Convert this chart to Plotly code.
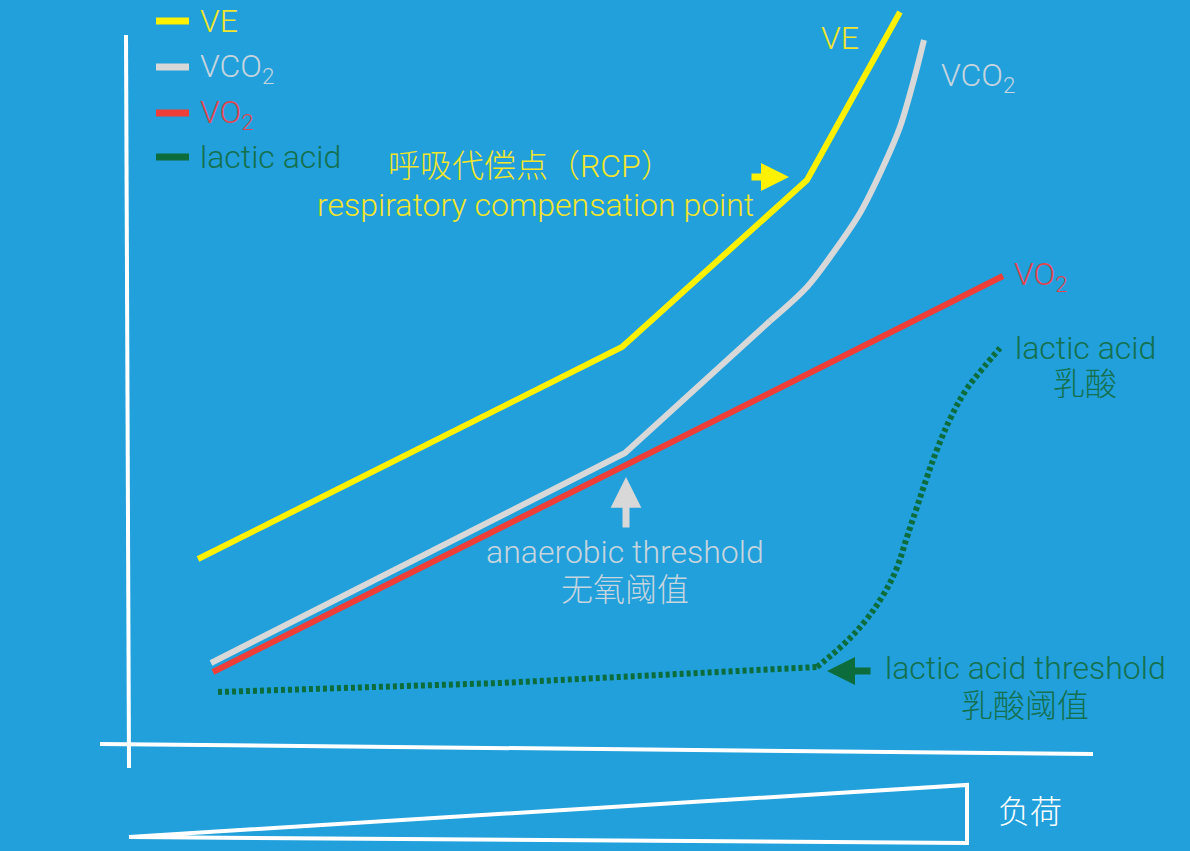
import plotly.graph_objects as go

# ---- data (diagram coordinates; y grows downward) ----
ve_x = [198, 622, 807, 900]
ve_y = [559, 347, 180, 12]

# VCO2: linear part (start, anaerobic threshold, end of straight run) + curved part
vco2_lin_x = [211, 625, 770]
vco2_lin_y = [663, 453, 321]
vco2_cur_x = [770, 807, 833, 860, 883, 900, 913, 924]
vco2_cur_y = [321, 287, 253, 213, 167, 127, 83, 40]

vo2_x = [213, 1003]
vo2_y = [672, 276]

# lactic acid: flat part + S-curve
lactic_lin_x = [218, 500, 817]
lactic_lin_y = [692, 683, 667]
lactic_cur_x = [817, 845, 866, 882, 896, 907, 916, 926, 938, 951, 966, 984, 1000]
lactic_cur_y = [667, 643, 620, 597, 570, 537, 510, 480, 447, 417, 390, 367, 348]

legend_names = ["VE", "VCO<sub>2</sub>", "VO<sub>2</sub>", "lactic acid"]

# ---- styles ----
BG = "#21A0DB"
YEL_LINE, YEL_TXT = "#FFF100", "#F2E52C"
GRY_LINE, GRY_TXT = "#D8D8D8", "#C6D5DE"
RED_LINE, RED_TXT = "#EF3E37", "#E0454F"
GRN_LINE, GRN_TXT = "#0D6C3C", "#14704E"
WHITE = "#FFFFFF"
FONT = "Roboto, Noto Sans CJK SC, sans-serif"
FS = 32
FW = 300

fig = go.Figure()

fig.add_trace(go.Scatter(x=vco2_lin_x, y=vco2_lin_y, mode="lines",
                         line=dict(color=GRY_LINE, width=6), hoverinfo="skip"))
fig.add_trace(go.Scatter(x=vco2_cur_x, y=vco2_cur_y, mode="lines",
                         line=dict(color=GRY_LINE, width=6, shape="spline", smoothing=0.9),
                         hoverinfo="skip"))
fig.add_trace(go.Scatter(x=vo2_x, y=vo2_y, mode="lines",
                         line=dict(color=RED_LINE, width=6), hoverinfo="skip"))
fig.add_trace(go.Scatter(x=ve_x, y=ve_y, mode="lines",
                         line=dict(color=YEL_LINE, width=6), hoverinfo="skip"))
fig.add_trace(go.Scatter(x=lactic_lin_x, y=lactic_lin_y, mode="lines",
                         line=dict(color=GRN_LINE, width=6, dash="4px,3px"),
                         hoverinfo="skip"))
fig.add_trace(go.Scatter(x=lactic_cur_x, y=lactic_cur_y, mode="lines",
                         line=dict(color=GRN_LINE, width=6, dash="4px,3px",
                                   shape="spline", smoothing=1.1),
                         hoverinfo="skip"))

shapes = []
# axes
shapes.append(dict(type="line", x0=126, y0=35, x1=129, y1=768,
                   line=dict(color=WHITE, width=4)))
shapes.append(dict(type="line", x0=100, y0=744, x1=1093, y1=754,
                   line=dict(color=WHITE, width=4)))
# load triangle
shapes.append(dict(type="path", path="M 129 837 L 967 785 L 967 843 Z",
                   line=dict(color=WHITE, width=4)))

# legend
leg_colors = [YEL_LINE, GRY_LINE, RED_LINE, GRN_LINE]
leg_txt_colors = [YEL_TXT, GRY_TXT, RED_TXT, GRN_TXT]
leg_y = [21, 67, 113, 157]
for c, yy in zip(leg_colors, leg_y):
    shapes.append(dict(type="line", x0=156, x1=189, y0=yy, y1=yy,
                       line=dict(color=c, width=7)))

ann = []
for name, c, yy in zip(legend_names, leg_txt_colors, leg_y):
    off = 1 if "sub" in name else 0
    ann.append(dict(x=198, y=yy + off, text=name, showarrow=False, xanchor="left",
                    yanchor="middle",
                    font=dict(color=c, size=FS, family=FONT, weight=FW)))


def label(x, y, text, color, xanchor="center"):
    ann.append(dict(x=x, y=y, text=text, showarrow=False, xanchor=xanchor,
                    yanchor="middle",
                    font=dict(color=color, size=FS, family=FONT, weight=FW)))


label(840, 38, "VE", YEL_TXT)
label(939, 77, "VCO<sub>2</sub>", GRY_TXT, "left")
label(1012, 276, "VO<sub>2</sub>", RED_TXT, "left")
label(1085, 348, "lactic acid", GRN_TXT)
label(1085, 384, "乳酸", GRN_TXT)
label(530, 166, "呼吸代偿点（RCP）", YEL_TXT)
label(535, 205, "respiratory compensation point", YEL_TXT)
label(625, 552, "anaerobic threshold", GRY_TXT)
label(625, 590, "无氧阈值", GRY_TXT)
label(1025, 668, "lactic acid threshold", GRN_TXT)
label(1025, 706, "乳酸阈值", GRN_TXT)
label(1030, 812, "负荷", WHITE)


def arrow(x_tip, y_tip, x_tail, y_tail, color, size=0.7):
    ann.append(dict(x=x_tip, y=y_tip, ax=x_tail, ay=y_tail, xref="x", yref="y",
                    axref="x", ayref="y", text="", showarrow=True, arrowhead=2,
                    arrowsize=size, arrowwidth=7, arrowcolor=color, standoff=0,
                    startstandoff=0))


arrow(789, 177, 750, 177, YEL_LINE, 0.8)
arrow(626, 477, 626, 529, GRY_LINE, 0.88)
arrow(827, 671, 872, 671, GRN_LINE, 0.8)

fig.update_layout(
    width=1190, height=851,
    margin=dict(l=0, r=0, t=0, b=0),
    paper_bgcolor=BG, plot_bgcolor=BG,
    showlegend=False,
    xaxis=dict(range=[0, 1190], visible=False, fixedrange=True),
    yaxis=dict(range=[851, 0], visible=False, fixedrange=True),
    shapes=shapes, annotations=ann,
)

fig.write_html("out.html", config={"displayModeBar": False},
               post_script="document.body.style.margin='0';document.body.style.overflow='hidden';")
